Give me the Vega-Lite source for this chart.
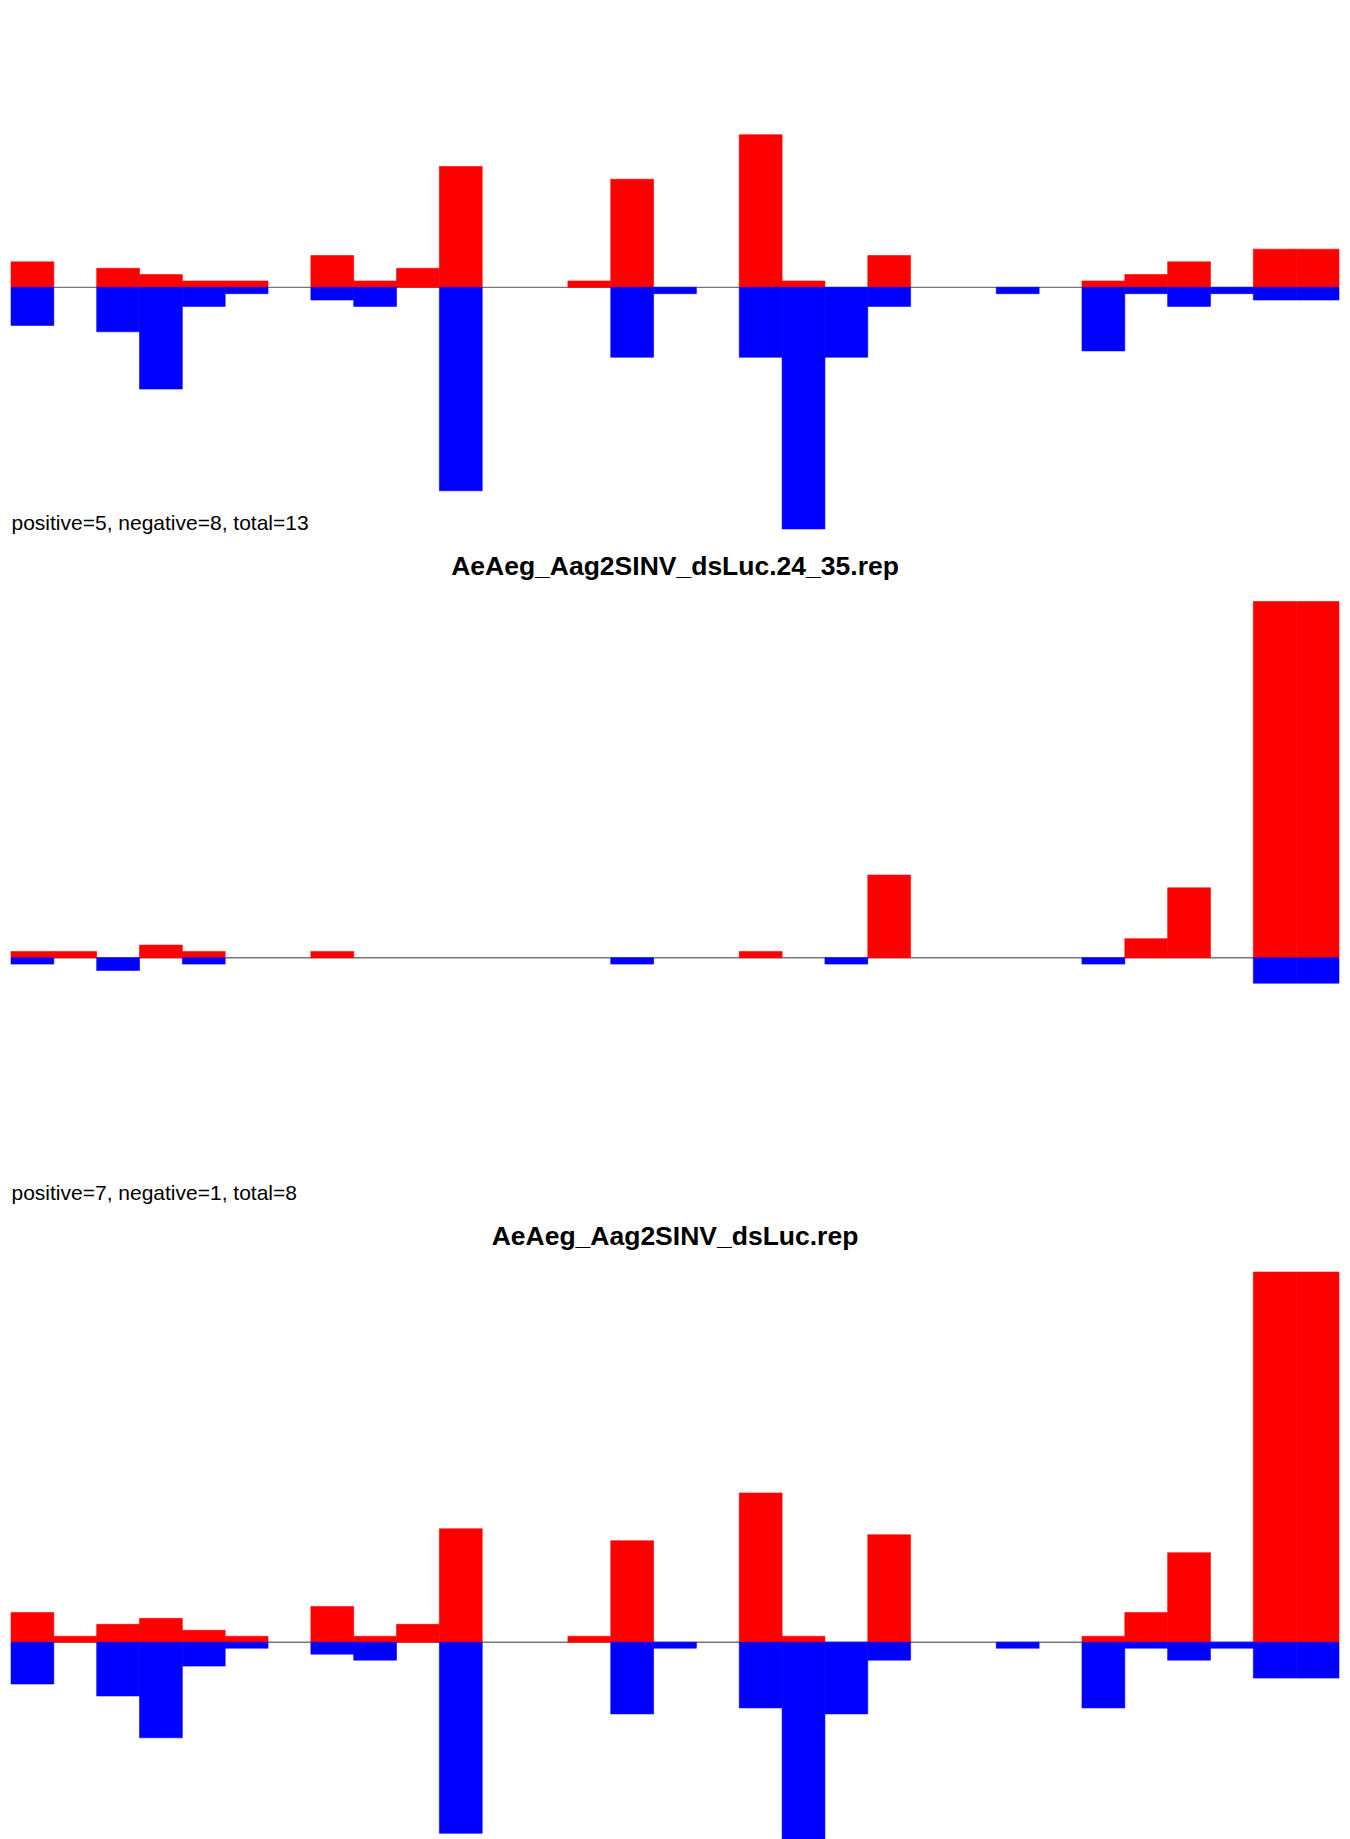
{
  "$schema": "https://vega.github.io/schema/vega-lite/v6.json",
  "background": "white",
  "padding": {"left": 10, "right": 12, "top": 0, "bottom": 0},
  "bounds": "flush",
  "spacing": 72.5,
  "config": {"view": {"stroke": null}, "font": "Liberation Sans"},
  "datasets": {
    "counts": [
      {"panel": "p1", "bin": 1, "strand": "+", "count": 4},
      {"panel": "p1", "bin": 3, "strand": "+", "count": 3},
      {"panel": "p1", "bin": 4, "strand": "+", "count": 2},
      {"panel": "p1", "bin": 5, "strand": "+", "count": 1},
      {"panel": "p1", "bin": 6, "strand": "+", "count": 1},
      {"panel": "p1", "bin": 8, "strand": "+", "count": 5},
      {"panel": "p1", "bin": 9, "strand": "+", "count": 1},
      {"panel": "p1", "bin": 10, "strand": "+", "count": 3},
      {"panel": "p1", "bin": 11, "strand": "+", "count": 19},
      {"panel": "p1", "bin": 14, "strand": "+", "count": 1},
      {"panel": "p1", "bin": 15, "strand": "+", "count": 17},
      {"panel": "p1", "bin": 18, "strand": "+", "count": 24},
      {"panel": "p1", "bin": 19, "strand": "+", "count": 1},
      {"panel": "p1", "bin": 21, "strand": "+", "count": 5},
      {"panel": "p1", "bin": 26, "strand": "+", "count": 1},
      {"panel": "p1", "bin": 27, "strand": "+", "count": 2},
      {"panel": "p1", "bin": 28, "strand": "+", "count": 4},
      {"panel": "p1", "bin": 30, "strand": "+", "count": 6},
      {"panel": "p1", "bin": 31, "strand": "+", "count": 6},
      {"panel": "p1", "bin": 1, "strand": "-", "count": -6},
      {"panel": "p1", "bin": 3, "strand": "-", "count": -7},
      {"panel": "p1", "bin": 4, "strand": "-", "count": -16},
      {"panel": "p1", "bin": 5, "strand": "-", "count": -3},
      {"panel": "p1", "bin": 6, "strand": "-", "count": -1},
      {"panel": "p1", "bin": 8, "strand": "-", "count": -2},
      {"panel": "p1", "bin": 9, "strand": "-", "count": -3},
      {"panel": "p1", "bin": 11, "strand": "-", "count": -32},
      {"panel": "p1", "bin": 15, "strand": "-", "count": -11},
      {"panel": "p1", "bin": 16, "strand": "-", "count": -1},
      {"panel": "p1", "bin": 18, "strand": "-", "count": -11},
      {"panel": "p1", "bin": 19, "strand": "-", "count": -38},
      {"panel": "p1", "bin": 20, "strand": "-", "count": -11},
      {"panel": "p1", "bin": 21, "strand": "-", "count": -3},
      {"panel": "p1", "bin": 24, "strand": "-", "count": -1},
      {"panel": "p1", "bin": 26, "strand": "-", "count": -10},
      {"panel": "p1", "bin": 27, "strand": "-", "count": -1},
      {"panel": "p1", "bin": 28, "strand": "-", "count": -3},
      {"panel": "p1", "bin": 29, "strand": "-", "count": -1},
      {"panel": "p1", "bin": 30, "strand": "-", "count": -2},
      {"panel": "p1", "bin": 31, "strand": "-", "count": -2},

      {"panel": "p2", "bin": 1, "strand": "+", "count": 1},
      {"panel": "p2", "bin": 2, "strand": "+", "count": 1},
      {"panel": "p2", "bin": 4, "strand": "+", "count": 2},
      {"panel": "p2", "bin": 5, "strand": "+", "count": 1},
      {"panel": "p2", "bin": 8, "strand": "+", "count": 1},
      {"panel": "p2", "bin": 18, "strand": "+", "count": 1},
      {"panel": "p2", "bin": 21, "strand": "+", "count": 13},
      {"panel": "p2", "bin": 27, "strand": "+", "count": 3},
      {"panel": "p2", "bin": 28, "strand": "+", "count": 11},
      {"panel": "p2", "bin": 30, "strand": "+", "count": 56},
      {"panel": "p2", "bin": 31, "strand": "+", "count": 56},
      {"panel": "p2", "bin": 1, "strand": "-", "count": -1},
      {"panel": "p2", "bin": 3, "strand": "-", "count": -2},
      {"panel": "p2", "bin": 5, "strand": "-", "count": -1},
      {"panel": "p2", "bin": 15, "strand": "-", "count": -1},
      {"panel": "p2", "bin": 20, "strand": "-", "count": -1},
      {"panel": "p2", "bin": 26, "strand": "-", "count": -1},
      {"panel": "p2", "bin": 30, "strand": "-", "count": -4},
      {"panel": "p2", "bin": 31, "strand": "-", "count": -4},

      {"panel": "p3", "bin": 1, "strand": "+", "count": 5},
      {"panel": "p3", "bin": 2, "strand": "+", "count": 1},
      {"panel": "p3", "bin": 3, "strand": "+", "count": 3},
      {"panel": "p3", "bin": 4, "strand": "+", "count": 4},
      {"panel": "p3", "bin": 5, "strand": "+", "count": 2},
      {"panel": "p3", "bin": 6, "strand": "+", "count": 1},
      {"panel": "p3", "bin": 8, "strand": "+", "count": 6},
      {"panel": "p3", "bin": 9, "strand": "+", "count": 1},
      {"panel": "p3", "bin": 10, "strand": "+", "count": 3},
      {"panel": "p3", "bin": 11, "strand": "+", "count": 19},
      {"panel": "p3", "bin": 14, "strand": "+", "count": 1},
      {"panel": "p3", "bin": 15, "strand": "+", "count": 17},
      {"panel": "p3", "bin": 18, "strand": "+", "count": 25},
      {"panel": "p3", "bin": 19, "strand": "+", "count": 1},
      {"panel": "p3", "bin": 21, "strand": "+", "count": 18},
      {"panel": "p3", "bin": 26, "strand": "+", "count": 1},
      {"panel": "p3", "bin": 27, "strand": "+", "count": 5},
      {"panel": "p3", "bin": 28, "strand": "+", "count": 15},
      {"panel": "p3", "bin": 30, "strand": "+", "count": 62},
      {"panel": "p3", "bin": 31, "strand": "+", "count": 62},
      {"panel": "p3", "bin": 1, "strand": "-", "count": -7},
      {"panel": "p3", "bin": 3, "strand": "-", "count": -9},
      {"panel": "p3", "bin": 4, "strand": "-", "count": -16},
      {"panel": "p3", "bin": 5, "strand": "-", "count": -4},
      {"panel": "p3", "bin": 6, "strand": "-", "count": -1},
      {"panel": "p3", "bin": 8, "strand": "-", "count": -2},
      {"panel": "p3", "bin": 9, "strand": "-", "count": -3},
      {"panel": "p3", "bin": 11, "strand": "-", "count": -32},
      {"panel": "p3", "bin": 15, "strand": "-", "count": -12},
      {"panel": "p3", "bin": 16, "strand": "-", "count": -1},
      {"panel": "p3", "bin": 18, "strand": "-", "count": -11},
      {"panel": "p3", "bin": 19, "strand": "-", "count": -38},
      {"panel": "p3", "bin": 20, "strand": "-", "count": -12},
      {"panel": "p3", "bin": 21, "strand": "-", "count": -3},
      {"panel": "p3", "bin": 24, "strand": "-", "count": -1},
      {"panel": "p3", "bin": 26, "strand": "-", "count": -11},
      {"panel": "p3", "bin": 27, "strand": "-", "count": -1},
      {"panel": "p3", "bin": 28, "strand": "-", "count": -3},
      {"panel": "p3", "bin": 29, "strand": "-", "count": -1},
      {"panel": "p3", "bin": 30, "strand": "-", "count": -6},
      {"panel": "p3", "bin": 31, "strand": "-", "count": -6}
    ]
  },
  "vconcat": [
    {
      "width": 1328,
      "height": 529,
      "layer": [
        {
          "data": {"values": [{"z": 0}]},
          "mark": {"type": "rule", "color": "#777777", "strokeWidth": 1.3},
          "encoding": {
            "y": {"field": "z", "type": "quantitative", "scale": {"domain": [-38, 45.17], "nice": false, "zero": false}, "axis": null}
          }
        },
        {
          "data": {"name": "counts"},
          "transform": [{"filter": "datum.panel === 'p1'"}],
          "mark": {"type": "bar", "strokeWidth": 0.6},
          "encoding": {
            "x": {
              "field": "bin", "type": "ordinal",
              "scale": {"domain": [1,2,3,4,5,6,7,8,9,10,11,12,13,14,15,16,17,18,19,20,21,22,23,24,25,26,27,28,29,30,31], "paddingInner": 0, "paddingOuter": 0},
              "axis": {"title": "positive=5, negative=8, total=13", "labels": false, "ticks": false, "domain": false, "grid": false,
                       "titleFontSize": 21, "titleFontWeight": "normal", "titleColor": "black", "titleFont": "Liberation Sans",
                       "titleAnchor": "start", "titleAlign": "left", "titleBaseline": "alphabetic", "titleX": 0, "titleY": 0}
            },
            "y": {"field": "count", "type": "quantitative", "scale": {"domain": [-38, 45.17], "nice": false, "zero": false}, "axis": null},
            "y2": {"datum": 0},
            "color": {"field": "strand", "type": "nominal", "scale": {"domain": ["+", "-"], "range": ["#ff0000", "#0000ff"]}, "legend": null},
            "stroke": {"field": "strand", "type": "nominal", "scale": {"domain": ["+", "-"], "range": ["#ff0000", "#0000ff"]}, "legend": null}
          }
        }
      ]
    },
    {
      "width": 1328,
      "height": 598,
      "title": {"text": "AeAeg_Aag2SINV_dsLuc.24_35.rep", "fontSize": 26.5, "fontWeight": "bold", "color": "black", "font": "Liberation Sans", "offset": 0, "baseline": "alphabetic", "anchor": "middle"},
      "layer": [
        {
          "data": {"values": [{"z": 0}]},
          "mark": {"type": "rule", "color": "#777777", "strokeWidth": 1.3},
          "encoding": {
            "y": {"field": "z", "type": "quantitative", "scale": {"domain": [-38, 56], "nice": false, "zero": false}, "axis": null}
          }
        },
        {
          "data": {"name": "counts"},
          "transform": [{"filter": "datum.panel === 'p2'"}],
          "mark": {"type": "bar", "strokeWidth": 0.6},
          "encoding": {
            "x": {
              "field": "bin", "type": "ordinal",
              "scale": {"domain": [1,2,3,4,5,6,7,8,9,10,11,12,13,14,15,16,17,18,19,20,21,22,23,24,25,26,27,28,29,30,31], "paddingInner": 0, "paddingOuter": 0},
              "axis": {"title": "positive=7, negative=1, total=8", "labels": false, "ticks": false, "domain": false, "grid": false,
                       "titleFontSize": 21, "titleFontWeight": "normal", "titleColor": "black", "titleFont": "Liberation Sans",
                       "titleAnchor": "start", "titleAlign": "left", "titleBaseline": "alphabetic", "titleX": 0, "titleY": 0}
            },
            "y": {"field": "count", "type": "quantitative", "scale": {"domain": [-38, 56], "nice": false, "zero": false}, "axis": null},
            "y2": {"datum": 0},
            "color": {"field": "strand", "type": "nominal", "scale": {"domain": ["+", "-"], "range": ["#ff0000", "#0000ff"]}, "legend": null},
            "stroke": {"field": "strand", "type": "nominal", "scale": {"domain": ["+", "-"], "range": ["#ff0000", "#0000ff"]}, "legend": null}
          }
        }
      ]
    },
    {
      "width": 1328,
      "height": 567,
      "title": {"text": "AeAeg_Aag2SINV_dsLuc.rep", "fontSize": 26.5, "fontWeight": "bold", "color": "black", "font": "Liberation Sans", "offset": 0, "baseline": "alphabetic", "anchor": "middle"},
      "layer": [
        {
          "data": {"values": [{"z": 0}]},
          "mark": {"type": "rule", "color": "#777777", "strokeWidth": 1.3},
          "encoding": {
            "y": {"field": "z", "type": "quantitative", "scale": {"domain": [-32.95, 62], "nice": false, "zero": false, "clamp": true}, "axis": null}
          }
        },
        {
          "data": {"name": "counts"},
          "transform": [{"filter": "datum.panel === 'p3'"}],
          "mark": {"type": "bar", "strokeWidth": 0.6},
          "encoding": {
            "x": {
              "field": "bin", "type": "ordinal",
              "scale": {"domain": [1,2,3,4,5,6,7,8,9,10,11,12,13,14,15,16,17,18,19,20,21,22,23,24,25,26,27,28,29,30,31], "paddingInner": 0, "paddingOuter": 0},
              "axis": null
            },
            "y": {"field": "count", "type": "quantitative", "scale": {"domain": [-32.95, 62], "nice": false, "zero": false, "clamp": true}, "axis": null},
            "y2": {"datum": 0},
            "color": {"field": "strand", "type": "nominal", "scale": {"domain": ["+", "-"], "range": ["#ff0000", "#0000ff"]}, "legend": null},
            "stroke": {"field": "strand", "type": "nominal", "scale": {"domain": ["+", "-"], "range": ["#ff0000", "#0000ff"]}, "legend": null}
          }
        }
      ]
    }
  ]
}
